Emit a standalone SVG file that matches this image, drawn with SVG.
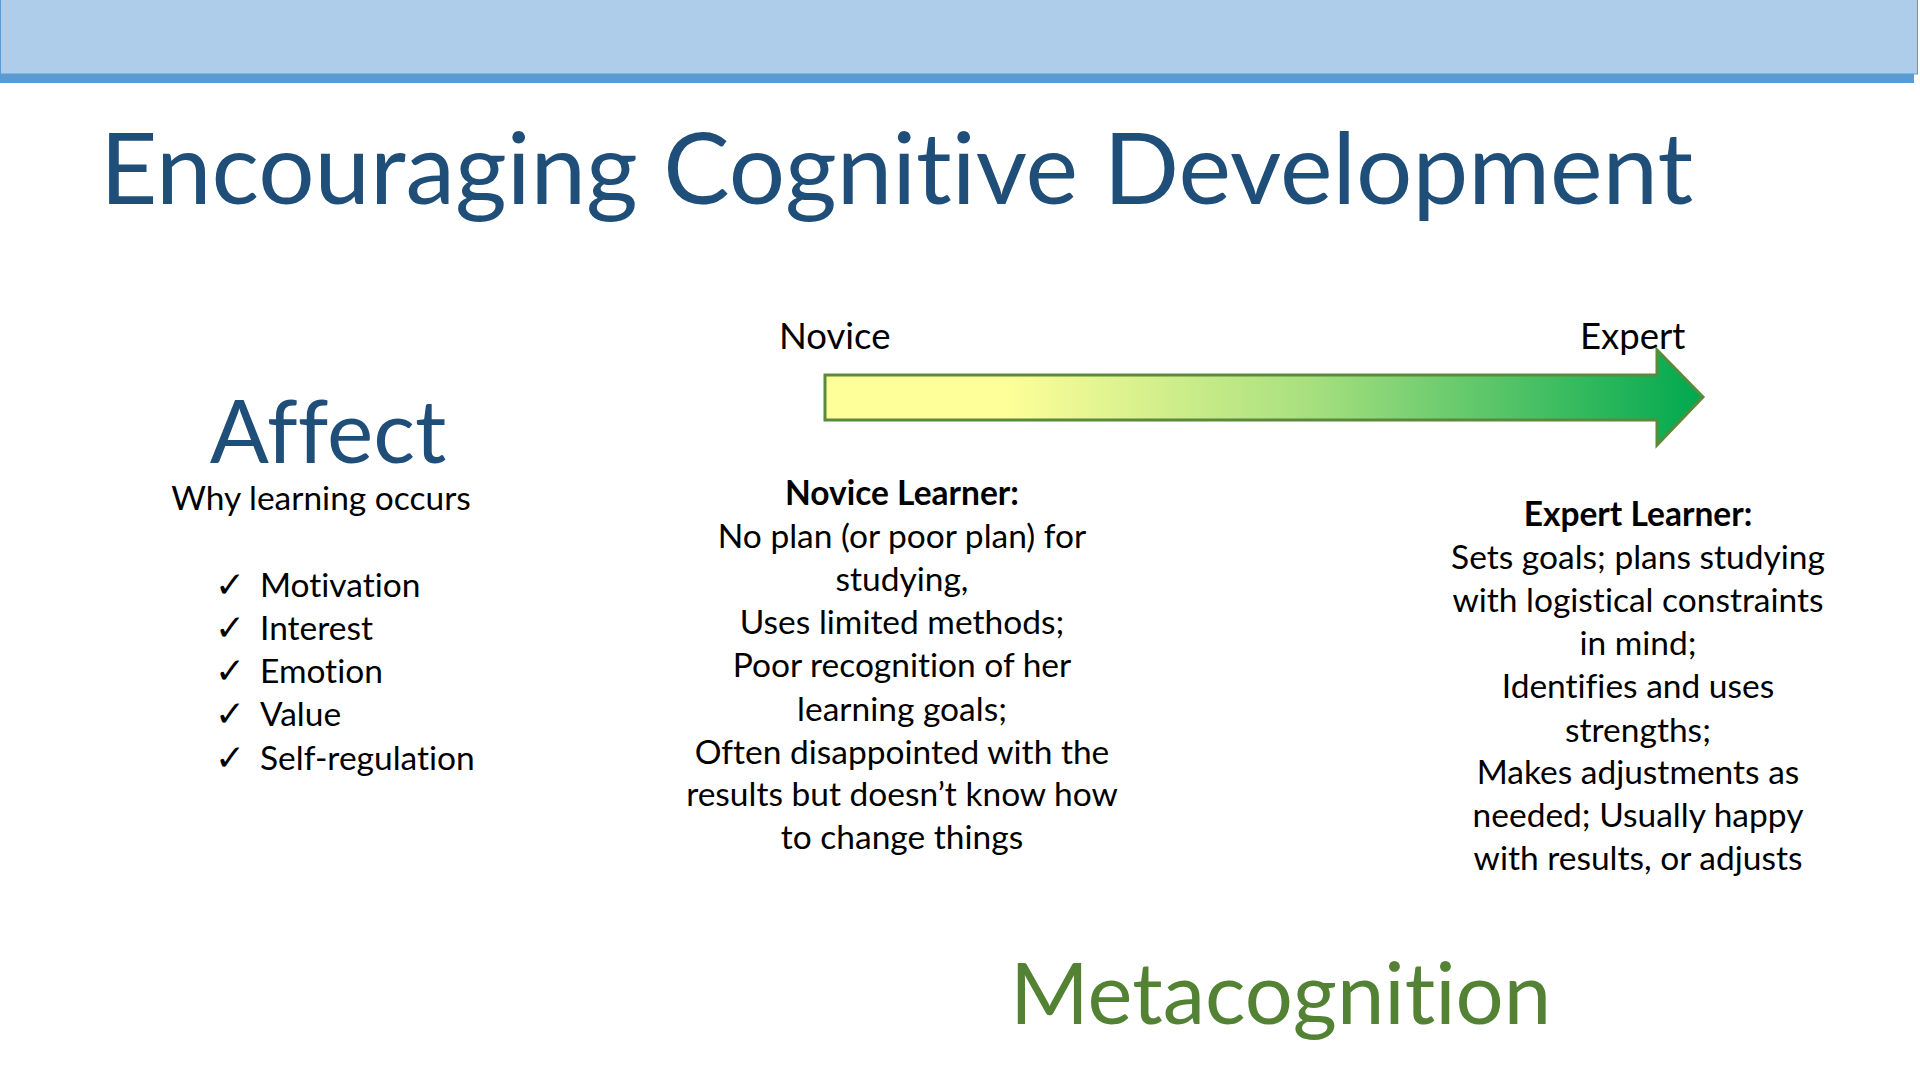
<svg xmlns="http://www.w3.org/2000/svg" width="1920" height="1080" viewBox="0 0 1920 1080">
<defs>
<style>
text{font-family:Lato,"Open Sans","DejaVu Sans",sans-serif;font-variant-ligatures:none;font-feature-settings:"liga" 0;}
.body{font-size:33.5px;fill:#000;}
.ctr{text-anchor:middle;}
.b{font-weight:bold;}
.blue{fill:#1F4E79;}
.chk{font-family:"DejaVu Sans",sans-serif;font-size:36px;font-weight:bold;fill:#000;}
</style>
<linearGradient id="g" x1="0" y1="0" x2="1" y2="0">
<stop offset="0" stop-color="#FFFF99"/>
<stop offset="0.2" stop-color="#FFFF99"/>
<stop offset="0.55" stop-color="#A8E07F"/>
<stop offset="1" stop-color="#00A84F"/>
</linearGradient>
</defs>
<rect width="1920" height="1080" fill="#fff"/>
<g id="header">
<rect x="0" y="74" width="1914" height="9" fill="#5B9BD5"/>
<rect x="0.5" y="-1" width="1917" height="75" fill="#AECDEA" stroke="#5B9BD5" stroke-width="1"/>
</g>
<g id="title"><text x="100" y="204" font-size="99.5" class="blue">Encouraging Cognitive Development</text></g>
<g id="affect">
<text x="328" y="463" font-size="87.5" class="blue ctr">Affect</text>
<text x="321" y="510" class="body ctr">Why learning occurs</text>
<text x="215" y="597" class="chk">✓</text><text x="260" y="597" class="body">Motivation</text>
<text x="215" y="640" class="chk">✓</text><text x="260" y="640" class="body">Interest</text>
<text x="215" y="683" class="chk">✓</text><text x="260" y="683" class="body">Emotion</text>
<text x="215" y="726" class="chk">✓</text><text x="260" y="726" class="body">Value</text>
<text x="215" y="770" class="chk">✓</text><text x="260" y="770" class="body">Self-regulation</text>
</g>
<g id="connectors">
<path d="M825,375 H1657 V350 L1703,397 L1657,445 V420 H825 Z" fill="url(#g)" stroke="#5A8A3A" stroke-width="3" stroke-linejoin="miter"/>
</g>
<g id="novice-label"><text x="779" y="349" class="body" style="font-size:36.5px">Novice</text></g>
<g id="expert-label"><text x="1580" y="349" class="body" style="font-size:36.5px">Expert</text></g>
<g id="novice-learner">
<text x="902" y="505" class="body ctr b">Novice Learner:</text>
<text x="902" y="548" class="body ctr">No plan (or poor plan) for</text>
<text x="902" y="591" class="body ctr">studying,</text>
<text x="902" y="634" class="body ctr">Uses limited methods;</text>
<text x="902" y="677" class="body ctr">Poor recognition of her</text>
<text x="902" y="721" class="body ctr">learning goals;</text>
<text x="902" y="764" class="body ctr">Often disappointed with the</text>
<text x="902" y="806" class="body ctr">results but doesn’t know how</text>
<text x="902" y="849" class="body ctr">to change things</text>
</g>
<g id="expert-learner">
<text x="1638" y="526" class="body ctr b">Expert Learner:</text>
<text x="1638" y="569" class="body ctr">Sets goals; plans studying</text>
<text x="1638" y="612" class="body ctr">with logistical constraints</text>
<text x="1638" y="655" class="body ctr">in mind;</text>
<text x="1638" y="698" class="body ctr">Identifies and uses</text>
<text x="1638" y="742" class="body ctr">strengths;</text>
<text x="1638" y="784" class="body ctr">Makes adjustments as</text>
<text x="1638" y="827" class="body ctr">needed; Usually happy</text>
<text x="1638" y="870" class="body ctr">with results, or adjusts</text>
</g>
<g id="metacognition"><text x="1010" y="1024" font-size="85" fill="#548235">Metacognition</text></g>
</svg>
